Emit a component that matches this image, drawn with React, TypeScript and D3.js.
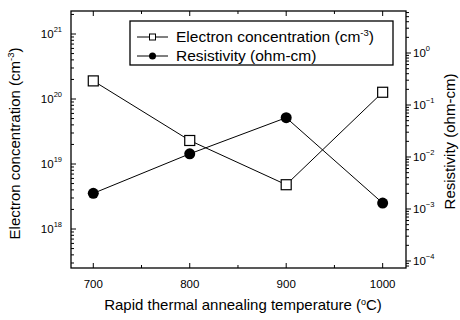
import * as d3 from "d3";

const temps = [700, 800, 900, 1000];
const electronConc = [1.9e20, 2.3e19, 4.8e18, 1.27e20];
const resistivity = [2.0e-3, 1.15e-2, 5.7e-2, 1.3e-3];

const xMajor = [700, 800, 900, 1000];
const xMinor = [750, 850, 950];
const leftDecades = [18, 19, 20, 21];
const rightDecades = [0, -1, -2, -3, -4];

const W = 460;
const H = 320;
const plot = { left: 71, right: 406, top: 11, bottom: 268 };
const font = "Arial, 'Liberation Sans', sans-serif";

export default function App() {
  const x = d3.scaleLinear().domain([676.9, 1024.2]).range([plot.left, plot.right]);
  const yL = d3
    .scaleLog()
    .domain([Math.pow(10, 17.4), Math.pow(10, 21.354)])
    .range([plot.bottom, plot.top]);
  const yR = d3
    .scaleLog()
    .domain([Math.pow(10, -4.135), Math.pow(10, 0.808)])
    .range([plot.bottom, plot.top]);

  const ptsE = temps.map((t, i) => [x(t), yL(electronConc[i])] as [number, number]);
  const ptsR = temps.map((t, i) => [x(t), yR(resistivity[i])] as [number, number]);
  const line = d3.line();

  // minor ticks on log axes (2..9 of each decade, clipped to range)
  const minorLog = (scale: d3.ScaleLogarithmic<number, number>, decades: number[]) => {
    const out: number[] = [];
    const lo = Math.min(...decades) - 1;
    const hi = Math.max(...decades) + 1;
    for (let d = lo; d <= hi; d++) {
      for (let m = 2; m <= 9; m++) {
        const py = scale(m * Math.pow(10, d));
        if (py > plot.top + 0.5 && py < plot.bottom - 0.5) out.push(py);
      }
    }
    return out;
  };

  const sup = (e: number) => (e < 0 ? "\u2212" + Math.abs(e) : String(e));

  return (
    <div style={{ position: "fixed", left: 0, top: 0 }}>
      <svg width={W} height={H} style={{ display: "block", background: "#fff" }} fontFamily={font}>
        {/* frame */}
        <rect
          x={plot.left}
          y={plot.top}
          width={plot.right - plot.left}
          height={plot.bottom - plot.top}
          fill="none"
          stroke="#000"
          strokeWidth={1.3}
        />

        {/* x ticks, bottom and top, pointing inward */}
        {xMajor.map((t) => (
          <g key={"xm" + t}>
            <line x1={x(t)} x2={x(t)} y1={plot.bottom} y2={plot.bottom - 5} stroke="#000" />
            <line x1={x(t)} x2={x(t)} y1={plot.top} y2={plot.top + 5} stroke="#000" />
            <text x={x(t)} y={288} fontSize={11.5} textAnchor="middle">
              {t}
            </text>
          </g>
        ))}
        {xMinor.map((t) => (
          <g key={"xn" + t}>
            <line x1={x(t)} x2={x(t)} y1={plot.bottom} y2={plot.bottom - 3} stroke="#000" />
            <line x1={x(t)} x2={x(t)} y1={plot.top} y2={plot.top + 3} stroke="#000" />
          </g>
        ))}

        {/* left log axis */}
        {leftDecades.map((d) => (
          <g key={"l" + d}>
            <line x1={plot.left} x2={plot.left + 5} y1={yL(Math.pow(10, d))} y2={yL(Math.pow(10, d))} stroke="#000" />
            <text x={62} y={yL(Math.pow(10, d)) + 4} fontSize={11.5} textAnchor="end">
              10
              <tspan fontSize={7.5} dy={-6}>
                {sup(d)}
              </tspan>
            </text>
          </g>
        ))}
        {minorLog(yL, leftDecades).map((py, i) => (
          <line key={"lm" + i} x1={plot.left} x2={plot.left + 3} y1={py} y2={py} stroke="#000" />
        ))}

        {/* right log axis */}
        {rightDecades.map((d) => (
          <g key={"r" + d}>
            <line x1={plot.right} x2={plot.right + 5} y1={yR(Math.pow(10, d))} y2={yR(Math.pow(10, d))} stroke="#000" />
            <text x={413} y={yR(Math.pow(10, d)) + 4} fontSize={11.5}>
              10
              <tspan fontSize={7.5} dy={-6}>
                {sup(d)}
              </tspan>
            </text>
          </g>
        ))}
        {minorLog(yR, rightDecades).map((py, i) => (
          <line key={"rm" + i} x1={plot.right} x2={plot.right + 3} y1={py} y2={py} stroke="#000" />
        ))}

        {/* axis titles */}
        <text x={243} y={310} fontSize={15} textAnchor="middle">
          Rapid thermal annealing temperature (
          <tspan fontSize={9} dy={-5}>
            o
          </tspan>
          <tspan dy={5}>C)</tspan>
        </text>
        <text transform={`translate(20,${(plot.top + plot.bottom) / 2 + 4}) rotate(-90)`} fontSize={15} textAnchor="middle">
          Electron concentration (cm
          <tspan fontSize={9.5} dy={-6}>
            -3
          </tspan>
          <tspan dy={6}>)</tspan>
        </text>
        <text transform={`translate(455,${(plot.top + plot.bottom) / 2 + 2}) rotate(-90)`} fontSize={15} textAnchor="middle">
          Resistivity (ohm-cm)
        </text>

        {/* series lines */}
        <path d={line(ptsE) ?? ""} fill="none" stroke="#000" strokeWidth={1} />
        <path d={line(ptsR) ?? ""} fill="none" stroke="#000" strokeWidth={1} />

        {/* markers */}
        {ptsE.map(([px, py], i) => (
          <rect key={"sq" + i} x={px - 5} y={py - 5} width={10} height={10} fill="#fff" stroke="#000" strokeWidth={1.2} />
        ))}
        {ptsR.map(([px, py], i) => (
          <circle key={"c" + i} cx={px} cy={py} r={5.5} fill="#000" />
        ))}

        {/* legend */}
        <rect x={130} y={21} width={263} height={44} fill="#fff" stroke="#000" strokeWidth={1.3} />
        <line x1={137} x2={168} y1={37} y2={37} stroke="#000" />
        <rect x={149.5} y={34} width={6} height={6} fill="#fff" stroke="#000" />
        <text x={176} y={42} fontSize={15.5}>
          Electron concentration (cm
          <tspan fontSize={9.5} dy={-6}>
            -3
          </tspan>
          <tspan dy={6}>)</tspan>
        </text>
        <line x1={137} x2={168} y1={56} y2={56} stroke="#000" />
        <circle cx={152.5} cy={56} r={3.5} fill="#000" />
        <text x={176} y={61} fontSize={15.5}>
          Resistivity (ohm-cm)
        </text>
      </svg>
    </div>
  );
}
